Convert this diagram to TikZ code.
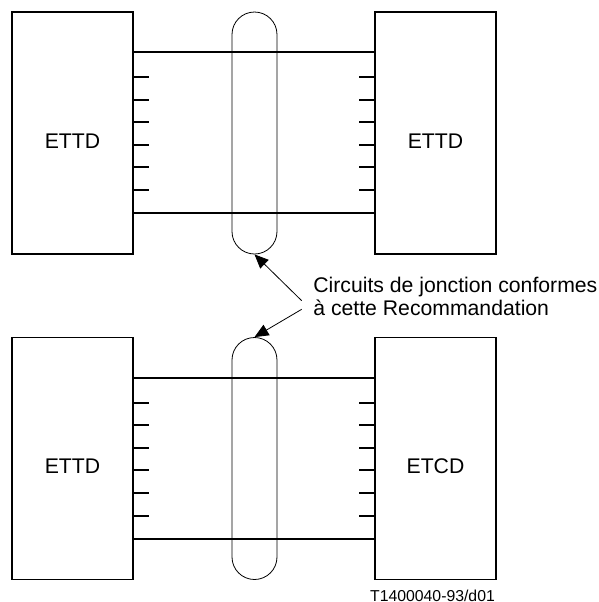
\documentclass[tikz,border=0pt]{standalone}
\usepackage{fontspec}
\setmainfont{Liberation Sans}
\usetikzlibrary{arrows.meta,calc}
\begin{document}
\begin{tikzpicture}[x=0.5pt,y=-0.5pt]
		\tikzstyle{unit}=[draw,line width=0.6pt,minimum width=60.5pt,minimum height=121pt,inner sep=0pt,text height=15.3pt,text depth=0pt,font=\fontsize{10.6}{12}\selectfont]
		\tikzstyle{capsule}=[draw,line width=0.4pt,minimum width=22.5pt,minimum height=121pt,inner sep=0pt,rounded corners=11.25pt]
		\tikzstyle{bus}=[line width=1pt]
		\tikzstyle{pointer}=[line width=0.4pt,-{Triangle[length=7pt,width=6pt]}]
		\useasboundingbox (0,0) rectangle (599,602);
		% upper pair
		\node [unit] (dteA) at (72.5,133) {ETTD};
		\node [unit] (dteB) at (435.5,133) {ETTD};
		\node [capsule] (jA) at (254.5,133) {};
		% lower pair
		\node [unit] (dteC) at (72.5,458.5) {ETTD};
		\node [unit] (dceD) at (435.5,458.5) {ETCD};
		\node [capsule] (jC) at (254.5,458.5) {};
		% interchange circuits
		\foreach \a/\b in {dteA/dteB,dteC/dceD} {
			\draw [bus] ($(\a.north east)+(0,41)$) -- ($(\b.north west)+(0,41)$);
			\draw [bus] ($(\a.south east)+(0,-41.5)$) -- ($(\b.south west)+(0,-41.5)$);
			\foreach \d in {-56,-33.4,-10.8,11.8,34.4,57} {
				\draw [bus] ($(\a.east)+(0,\d)$) -- ++(15,0);
				\draw [bus] ($(\b.west)+(0,\d)$) -- ++(-15,0);
			}
		}
		% note
		\node [anchor=north west,align=left,inner sep=0pt,font=\fontsize{10.6}{11.5}\selectfont] (note) at (313,276.5) {Circuits de jonction conformes\\à cette Recommandation};
		\coordinate (tailA) at (301.7,300.7);
		\coordinate (tailB) at (301.7,309.3);
		\draw [pointer] (tailA) -- (jA.south);
		\draw [pointer] (tailB) -- (jC.north);
		\node [anchor=base,inner sep=0pt,font=\fontsize{7.9}{9}\selectfont] (code) at (432.5,601.5) {T1400040-93/d01};
\end{tikzpicture}
\end{document}
